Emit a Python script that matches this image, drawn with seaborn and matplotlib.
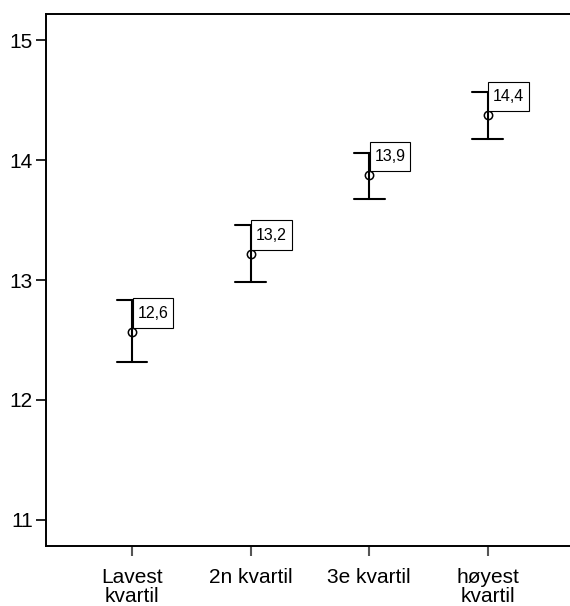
import matplotlib
matplotlib.use("Agg")
import matplotlib.pyplot as plt
from matplotlib.path import Path
import seaborn as sns
import pandas as pd

categories = ["Lavest\nkvartil", "2n kvartil", "3e kvartil", "høyest\nkvartil"]
means = [12.57, 13.22, 13.877, 14.378]
ci_low = [12.314, 12.986, 13.678, 14.178]
ci_high = [12.836, 13.46, 14.064, 14.569]
value_labels = ["12,6", "13,2", "13,9", "14,4"]
y_ticks = [11, 12, 13, 14, 15]

sns.set_theme(style="ticks")
plt.rcParams["font.family"] = ["Liberation Sans", "DejaVu Sans"]
plt.rcParams["text.color"] = "black"
plt.rcParams["xtick.labelcolor"] = "black"
plt.rcParams["ytick.labelcolor"] = "black"

rows = []
for c, lo, m, hi in zip(categories, ci_low, means, ci_high):
    for v in (lo, m, hi):
        rows.append({"group": c, "value": v})
df = pd.DataFrame(rows)

fig = plt.figure(figsize=(5.7, 6.06), dpi=100)
ax = fig.add_axes([46 / 570, 1 - 546 / 606, 1 - 46 / 570, (546 - 14) / 606])

sns.pointplot(data=df, x="group", y="value", order=categories,
              estimator="median", errorbar=("pi", 100),
              linestyle="none", markers="o", color="black",
              capsize=0.26, markersize=6, markerfacecolor="white",
              markeredgewidth=1.1,
              err_kws={"linewidth": 1.5}, ax=ax)


def label_box(x0, y0, width, height, mutation_size):
    px = 0.30 * mutation_size
    py = 0.46 * mutation_size
    xa, ya = x0 - px, y0 - py
    xb, yb = x0 + width + px, y0 + height + py
    return Path([(xa, ya), (xb, ya), (xb, yb), (xa, yb), (xa, ya)],
                [Path.MOVETO, Path.LINETO, Path.LINETO, Path.LINETO, Path.CLOSEPOLY])


for i, (m, lab) in enumerate(zip(means, value_labels)):
    ax.annotate(lab, xy=(i, m), xytext=(5.3, 11), textcoords="offset pixels",
                ha="left", va="bottom", fontsize=11.5, zorder=5, color="black",
                bbox=dict(boxstyle=label_box, fc="white", ec="black", lw=0.8))

ax.set_xlim(-0.726, 3.694)
ax.set_ylim(10.78, 15.22)
ax.set_yticks(y_ticks)
ax.set_yticklabels([str(t) for t in y_ticks])
ax.set_xlabel("")
ax.set_ylabel("")
ax.tick_params(axis="both", labelsize=15, length=7.5, width=1.2, color="black",
               labelcolor="black")
ax.tick_params(axis="x", color="#555555", width=1.5, pad=8)
ax.tick_params(axis="y", pad=2)
for s in ["left", "bottom", "top"]:
    ax.spines[s].set_linewidth(1.4)
    ax.spines[s].set_color("black")
ax.spines["right"].set_visible(False)
for lab in ax.get_xticklabels():
    lab.set_linespacing(1.05)

fig.savefig("out.png", dpi=100)
